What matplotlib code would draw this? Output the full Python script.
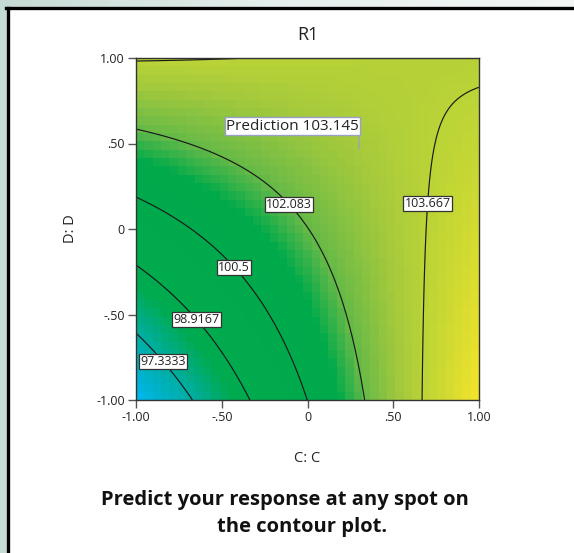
import numpy as np
import matplotlib
matplotlib.use('Agg')
import matplotlib.pyplot as plt
from matplotlib.colors import LinearSegmentedColormap
from matplotlib.lines import Line2D

plt.rcParams['font.family'] = ['Open Sans', 'DejaVu Sans']

# Response model: R1 = b0 + bC*C + bD*D + bCD*C*D
b0, bC, bD, bCD = 102.068, 2.311, 1.561, -2.42

contour_levels = [97.3333, 98.9167, 100.5, 102.083, 103.667]
label_spots = [(-0.79, -0.73), (-0.60, -0.49), (-0.38, -0.18), (-0.09, 0.16), (0.70, 0.15)]

tick_vals = [-1.0, -0.5, 0.0, 0.5, 1.0]
tick_labels = ['-1.00', '-.50', '0', '.50', '1.00']

pred_point = (0.30, 0.468)
pred_text = 'Prediction 103.145'

# colour scale (response value -> colour)
cmap_vals = [95.78, 97.4, 98.5, 101.4, 102.1, 103.1, 103.8, 105.24]
cmap_cols = ['#00b6f0', '#00ad9e', '#00aa4e', '#00aa4b', '#66b947', '#a4c93c', '#bed535', '#f4e42a']


def response(c, d):
    return b0 + bC * c + bD * d + bCD * c * d


fig = plt.figure(figsize=(5.74, 5.53), dpi=100, facecolor='white')

# pale gradient strips on top and left, black border of the white panel
bx, by = 7.5 / 574, 7.5 / 553
bg_cmap = LinearSegmentedColormap.from_list('bg', ['#c6dbd5', '#e6efed', '#f2f6f5'])
top = fig.add_axes([0, 1 - by, 1, by], zorder=-5)
top.imshow(np.linspace(0, 1, 256).reshape(1, -1), aspect='auto', cmap=bg_cmap)
top.axis('off')
left = fig.add_axes([0, 0, bx, 1], zorder=-5)
left.imshow(np.full((2, 2), 0.0), aspect='auto', cmap=bg_cmap, vmin=0, vmax=1)
left.axis('off')
fig.add_artist(Line2D([bx, bx], [0, 1 - by], transform=fig.transFigure, color='black', lw=2.4))
fig.add_artist(Line2D([bx - 0.002, 1], [1 - by, 1 - by], transform=fig.transFigure, color='black', lw=2.4))

ax = fig.add_axes([136 / 574, 1 - 400 / 553, 343 / 574, 342 / 553])

lo, hi = cmap_vals[0], cmap_vals[-1]
cm = LinearSegmentedColormap.from_list(
    'r1', [((v - lo) / (hi - lo), c) for v, c in zip(cmap_vals, cmap_cols)])

# blocky colour fill
n = 41
edges = np.linspace(-1, 1, n + 1)
mid = (edges[:-1] + edges[1:]) / 2
CC, DD = np.meshgrid(mid, mid)
ax.pcolormesh(edges, edges, response(CC, DD), cmap=cm, vmin=lo, vmax=hi, shading='flat')

# smooth contour lines
g = np.linspace(-1, 1, 400)
GC, GD = np.meshgrid(g, g)
cs = ax.contour(GC, GD, response(GC, GD), levels=contour_levels, colors='#1a1a1a', linewidths=0.85)
labels = ax.clabel(cs, fmt='%g', inline=False, manual=label_spots, fontsize=9)
for t in labels:
    t.set_rotation(0)
    t.set_color('#222222')
    t.set_bbox(dict(facecolor='white', edgecolor='#333333', pad=0.8, lw=0.9))
    t.set_zorder(5)

ax.annotate(pred_text, xy=pred_point, xytext=(0, 11), textcoords='offset points',
            ha='right', va='bottom', fontsize=11, color='#222222',
            bbox=dict(facecolor='white', edgecolor='#9aa0c8', pad=1.0, lw=1),
            arrowprops=dict(arrowstyle='-', color='#9aa0c8', lw=0.9,
                            relpos=(1, 0), shrinkA=0, shrinkB=0))

ax.set_xlim(-1, 1)
ax.set_ylim(-1, 1)
ax.set_xticks(tick_vals)
ax.set_xticklabels(tick_labels)
ax.set_yticks(tick_vals)
ax.set_yticklabels(tick_labels)
ax.tick_params(direction='out', length=6, width=1, color='#555555',
               labelsize=9, labelcolor='#222222', pad=2)
for s in ax.spines.values():
    s.set_color('#333333')
    s.set_linewidth(1)

ax.set_title('R1', fontsize=13, color='#222222', pad=13)
ax.set_xlabel('C: C', fontsize=10.5, color='#222222', labelpad=19)
ax.set_ylabel('D: D', fontsize=10.5, color='#222222', labelpad=13)

fig.text(285 / 574, 1 - 500 / 553, 'Predict your response at any spot on',
         ha='center', va='center', fontsize=14.5, fontweight='bold', color='#111111')
fig.text(302 / 574, 1 - 527 / 553, 'the contour plot.',
         ha='center', va='center', fontsize=14.5, fontweight='bold', color='#111111')

fig.savefig('out.png', dpi=100)
